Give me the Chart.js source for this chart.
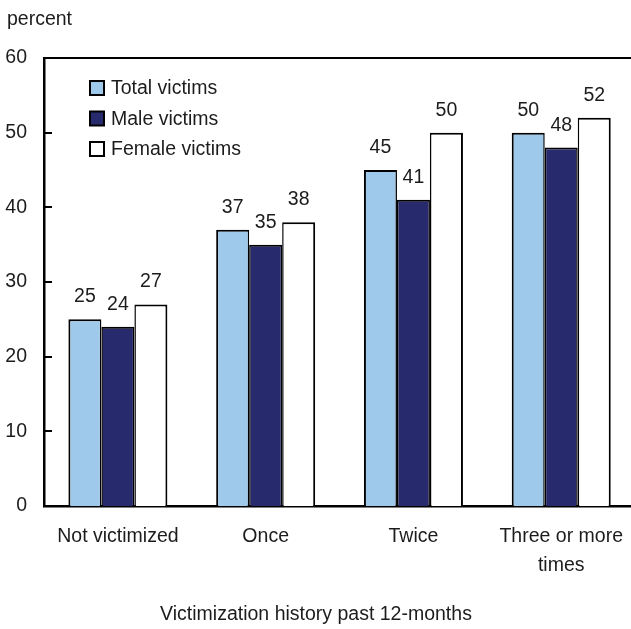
<!DOCTYPE html>
<html>
<head>
<meta charset="utf-8">
<script src="https://cdn.jsdelivr.net/npm/chart.js@4/dist/chart.umd.min.js"></script>
<style>
  html, body { margin: 0; padding: 0; background: #fff; overflow: hidden; }
  canvas { display: block; }
</style>
</head>
<body>
<canvas id="c" width="640" height="629"></canvas>
<script>
// Share of victims by victimization history in the past 12 months
const categories = ['Not victimized', 'Once', 'Twice', ['Three or more', 'times']];
const totalVictims = [25, 37, 45, 50];
const maleVictims = [24, 35, 41, 48];
const femaleVictims = [27, 38, 50, 52];
const yTicks = [0, 10, 20, 30, 40, 50, 60];
const xTitle = 'Victimization history past 12-months';

const FONT = '"Liberation Sans", Arial, sans-serif';
const FS = 19.5;
const TEXT = '#1c1c1c';

// Small inward tick marks on the value axis, plus the top frame line
const innerTicks = {
  id: 'innerTicks',
  afterDraw(chart) {
    const { ctx, chartArea } = chart;
    const y = chart.scales.y;
    ctx.save();
    ctx.strokeStyle = '#000';
    ctx.lineWidth = 2;
    ctx.beginPath();
    yTicks.forEach(v => {
      const py = Math.round(y.getPixelForValue(v));
      ctx.moveTo(chartArea.left - 1, py);
      ctx.lineTo(chartArea.left + 8, py);
    });
    ctx.moveTo(chartArea.left - 1, chartArea.top);
    ctx.lineTo(chart.width, chartArea.top);
    ctx.stroke();
    ctx.restore();
  }
};

// Value labels above each bar
const valueLabels = {
  id: 'valueLabels',
  afterDatasetsDraw(chart) {
    const { ctx } = chart;
    ctx.save();
    ctx.fillStyle = TEXT;
    ctx.font = FS + 'px ' + FONT;
    ctx.textAlign = 'center';
    ctx.textBaseline = 'alphabetic';
    chart.data.datasets.forEach((ds, di) => {
      chart.getDatasetMeta(di).data.forEach((bar, i) => {
        ctx.fillText(String(ds.data[i]), bar.x, bar.y - 17);
      });
    });
    ctx.restore();
  }
};

// Legend inside the plot, the "percent" unit caption and the category axis title
const legendAndCaptions = {
  id: 'legendAndCaptions',
  afterDraw(chart) {
    const { ctx } = chart;
    ctx.save();
    ctx.font = FS + 'px ' + FONT;
    ctx.fillStyle = TEXT;
    ctx.textAlign = 'left';
    ctx.textBaseline = 'middle';
    ctx.fillText('percent', 7, 20);

    chart.data.datasets.forEach((ds, i) => {
      const cy = 88 + i * 30.5;
      ctx.fillStyle = ds.backgroundColor;
      ctx.fillRect(90, cy - 7, 14, 14);
      ctx.strokeStyle = '#000';
      ctx.lineWidth = 2;
      ctx.strokeRect(90, cy - 7, 14, 14);
      ctx.fillStyle = TEXT;
      ctx.fillText(ds.label, 111, cy + 1);
    });

    ctx.textAlign = 'center';
    ctx.fillText(xTitle, 316, 615);
    ctx.restore();
  }
};

new Chart(document.getElementById('c'), {
  type: 'bar',
  data: {
    labels: categories,
    datasets: [
      { label: 'Total victims', data: totalVictims, backgroundColor: '#9fc9ea', borderColor: '#000',
        borderWidth: { top: 2, right: 1.5, bottom: 0, left: 2 } },
      { label: 'Male victims', data: maleVictims, backgroundColor: '#282a6e', borderColor: '#000',
        borderWidth: { top: 2, right: 1.5, bottom: 0, left: 1.5 } },
      { label: 'Female victims', data: femaleVictims, backgroundColor: '#ffffff', borderColor: '#000',
        borderWidth: { top: 2, right: 2, bottom: 0, left: 1.5 } }
    ]
  },
  options: {
    responsive: false,
    animation: false,
    devicePixelRatio: 1,
    layout: { padding: { top: 58, right: 4, left: 0, bottom: 0 } },
    datasets: { bar: { categoryPercentage: 0.67, barPercentage: 1.0 } },
    plugins: { legend: { display: false }, tooltip: { enabled: false } },
    scales: {
      x: {
        grid: { display: false, drawTicks: false },
        border: { display: true, color: '#000', width: 2.5 },
        ticks: {
          color: TEXT,
          padding: 16.5,
          maxRotation: 0,
          autoSkip: false,
          font: { family: FONT, size: FS, lineHeight: 1.49 }
        },
        afterFit(scale) { scale.height = 123; }
      },
      y: {
        min: 0,
        max: 60,
        afterBuildTicks(scale) { scale.ticks = yTicks.map(v => ({ value: v })); },
        grid: { display: false, drawTicks: false },
        border: { display: true, color: '#000', width: 2.5 },
        ticks: {
          color: TEXT,
          padding: 17,
          font: { family: FONT, size: FS }
        },
        afterFit(scale) { scale.width = 44; }
      }
    }
  },
  plugins: [innerTicks, valueLabels, legendAndCaptions]
});
</script>
</body>
</html>
